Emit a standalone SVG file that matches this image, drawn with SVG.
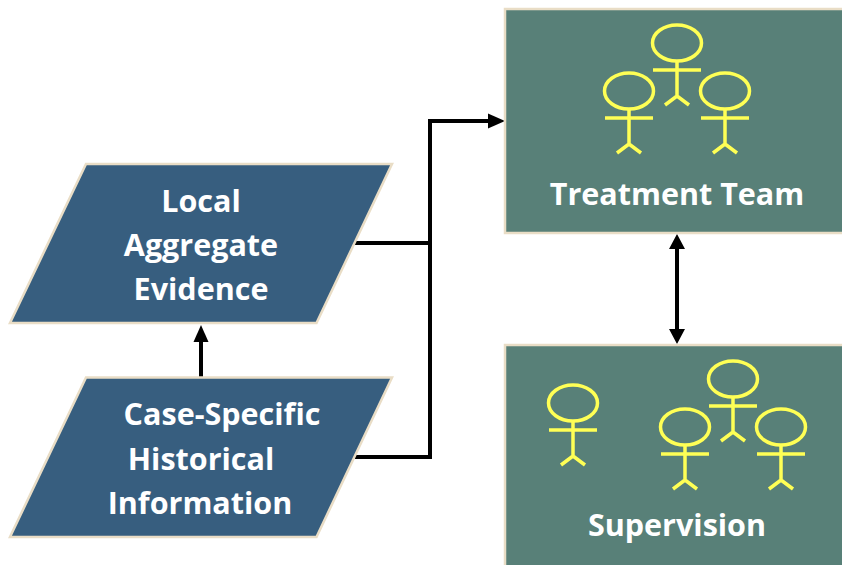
<svg xmlns="http://www.w3.org/2000/svg" width="842" height="565" viewBox="0 0 842 565">
<style>
.box{fill:#588078;stroke:#E9DDC6;stroke-width:2.500}
.data{fill:#375E7F;stroke:#E9DDC6;stroke-width:2.500}
.fig{fill:none;stroke:#FFFF55;stroke-width:3.500}
.con{fill:none;stroke:#000;stroke-width:4}
text{font-family:"Open Sans","Noto Sans","Liberation Sans",sans-serif;font-weight:700;font-size:30.500px;fill:#fff;text-anchor:middle;font-variant-ligatures:none}
</style>
<defs>
<g id="person" class="fig"><ellipse cx="0" cy="0" rx="24.500" ry="18"/><path d="M0 18V53M-24 27H24M-12 62L0 53L12 62"/></g>
</defs>
<rect width="842" height="565" fill="#fff"/>
<g id="connectors">
<path class="con" d="M355 243H430"/>
<path class="con" d="M355 457H430V121H490"/>
<path d="M488 113.500L505 121L488 128.500z" fill="#000"/>
<path class="con" d="M201 377V340"/>
<path d="M193.500 342L201 325L208.500 342z" fill="#000"/>
<path class="con" d="M677 248V330"/>
<path d="M669 249L677 234L685 249z" fill="#000"/>
<path d="M669 329L677 344L685 329z" fill="#000"/>
</g>
<g id="local-aggregate-evidence">
<path class="data" d="M86 164H392L316.500 323H10z"/>
<text x="201" y="212">Local</text>
<text x="201" y="256">Aggregate</text>
<text x="201" y="300">Evidence</text>
</g>
<g id="case-specific">
<path class="data" d="M86 377.500H392L316.500 537H10z"/>
<text x="222" y="425">Case-Specific</text>
<text x="201" y="470">Historical</text>
<text x="200" y="514">Information</text>
</g>
<g id="treatment-team">
<rect class="box" x="505" y="9" width="345" height="224"/>
<use href="#person" x="677" y="43"/>
<use href="#person" x="629" y="91"/>
<use href="#person" x="725" y="91"/>
<text x="677" y="205">Treatment Team</text>
</g>
<g id="supervision">
<rect class="box" x="505" y="345" width="345" height="230"/>
<use href="#person" x="573" y="403"/>
<use href="#person" x="733" y="379"/>
<use href="#person" x="685" y="427"/>
<use href="#person" x="781" y="427"/>
<text x="677" y="536">Supervision</text>
</g>
</svg>
